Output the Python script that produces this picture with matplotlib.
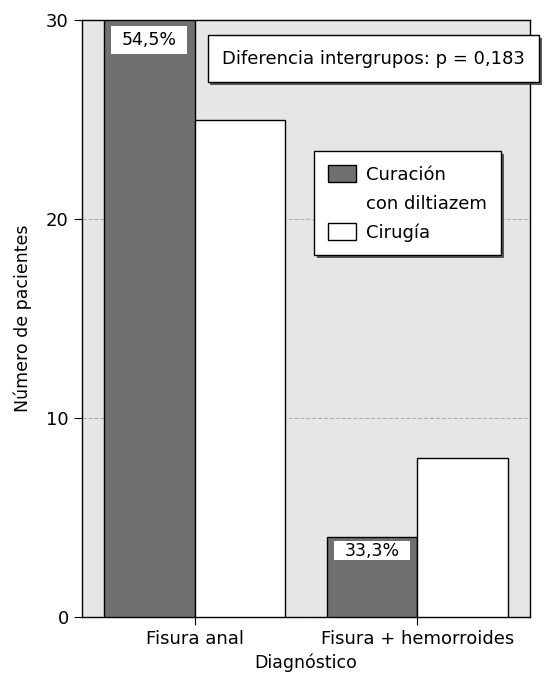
import matplotlib.pyplot as plt
import matplotlib.patheffects as pe
from matplotlib.patches import Patch, Rectangle
import numpy as np

plt.rcParams['font.family'] = ['DejaVu Sans']

# data
grupos = ["Fisura anal", "Fisura + hemorroides"]
curacion = [30, 4]
cirugia = [25, 8]
porcentajes = ["54,5%", "33,3%"]

fig = plt.figure(figsize=(5.49, 6.8), dpi=100)
ax = fig.add_axes([82/549, 1 - 617/680, 448/549, 597/680])
ax.set_facecolor('#e6e6e6')

x = np.arange(len(grupos))
w = 0.408
ax.bar(x - w/2, curacion, w, color='#707070', edgecolor='black', linewidth=1, zorder=3)
ax.bar(x + w/2, cirugia, w, color='white', edgecolor='black', linewidth=1, zorder=3)

# percentage labels inside the dark bars (white boxes)
top_gap = [0.3, 0.2]
box_h = [1.4, 0.95]
inset = 0.032
for xi, val, txt, g, h in zip(x, curacion, porcentajes, top_gap, box_h):
    y0 = val - g - h
    ax.add_patch(Rectangle((xi - w + inset, y0), w - 2*inset, h, facecolor='white',
                           edgecolor='none', zorder=4))
    ax.text(xi - w/2, y0 + h/2, txt, ha='center', va='center', fontsize=12.5, zorder=5)

ax.set_xlim(-0.505, 1.505)
ax.set_ylim(0, 30)
ax.set_yticks([0, 10, 20, 30])
ax.set_xticks(x)
ax.set_xticklabels(grupos, fontsize=13)
ax.tick_params(axis='y', labelsize=13, length=6)
ax.tick_params(axis='x', length=6)
ax.yaxis.grid(True, linestyle='--', color='#b0b0b0', linewidth=0.8, zorder=0)
ax.set_axisbelow(True)
ax.set_ylabel("Número de pacientes", fontsize=12.5, labelpad=10)
ax.set_xlabel("Diagnóstico", fontsize=12.5, labelpad=4)
for s in ax.spines.values():
    s.set_linewidth(1)

# p-value box
t = fig.text(222/549, 1 - 58.5/680, "Diferencia intergrupos: p = 0,183", fontsize=13,
             ha='left', va='center', zorder=10,
             bbox=dict(boxstyle='square,pad=0.8', facecolor='white', edgecolor='black', linewidth=1))
t.get_bbox_patch().set_path_effects([pe.SimplePatchShadow(offset=(2, -2), shadow_rgbFace='#333333', alpha=0.8), pe.Normal()])

# legend
handles = [Patch(facecolor='#707070', edgecolor='black', label='Curación'),
           Patch(facecolor='none', edgecolor='none', label='con diltiazem'),
           Patch(facecolor='white', edgecolor='black', label='Cirugía')]
leg = ax.legend(handles=handles, loc='upper left', bbox_to_anchor=(314/549, 1 - 151/680),
                bbox_transform=fig.transFigure, fontsize=13, frameon=True, fancybox=False,
                edgecolor='black', framealpha=1, handlelength=1.6, handleheight=1.15,
                labelspacing=0.55, borderpad=0.75, handletextpad=0.55, borderaxespad=0)
leg.get_frame().set_linewidth(1)
leg.get_frame().set_path_effects([pe.SimplePatchShadow(offset=(2, -2), shadow_rgbFace='#333333', alpha=0.8), pe.Normal()])
leg.set_zorder(10)

plt.savefig("out.png", dpi=100)
